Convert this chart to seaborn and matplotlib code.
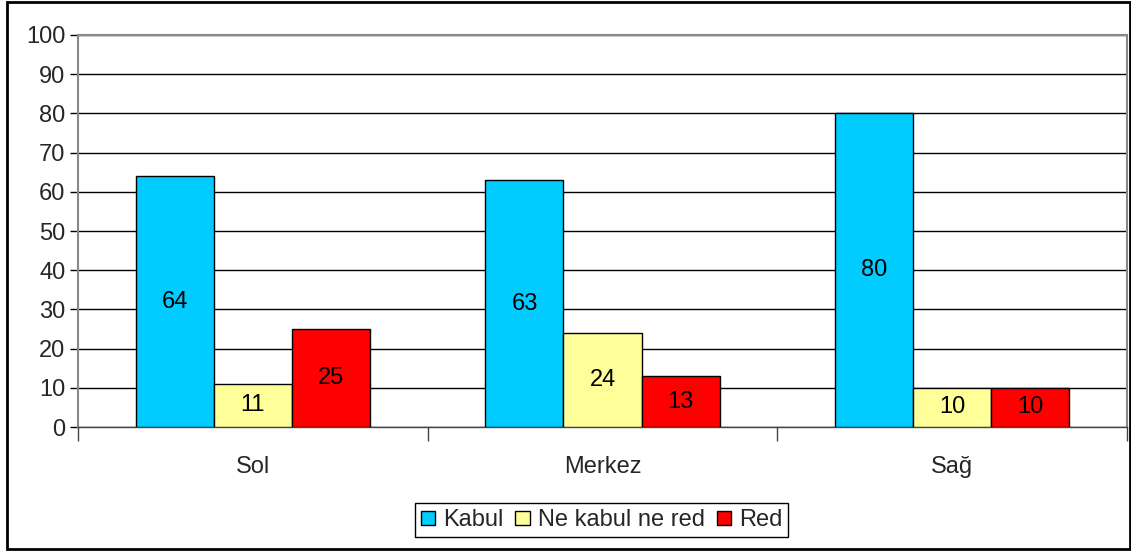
import pandas as pd
import seaborn as sns
import matplotlib.pyplot as plt
from matplotlib.patches import Rectangle

groups = ["Sol", "Merkez", "Sağ"]
responses = ["Kabul", "Ne kabul ne red", "Red"]
kabul = [64, 63, 80]
ne_kabul_ne_red = [11, 24, 10]
red = [25, 13, 10]
colors = ["#00CCFF", "#FFFF99", "#FF0000"]

rows = []
for name, vals in zip(responses, [kabul, ne_kabul_ne_red, red]):
    for g, v in zip(groups, vals):
        rows.append([g, name, v])
df = pd.DataFrame(rows, columns=["Grup", "Cevap", "Yüzde"])

sns.set_style("white")
plt.rcParams["font.family"] = ["Liberation Sans", "DejaVu Sans"]
fs = 17

fig = plt.figure(figsize=(11.31, 5.51), dpi=100)
ax = fig.add_axes([0.069, 0.225, 0.9275, 0.7115])

sns.barplot(
    data=df,
    x="Grup",
    y="Yüzde",
    hue="Cevap",
    order=groups,
    hue_order=responses,
    palette=colors,
    width=0.67,
    edgecolor="black",
    linewidth=1,
    saturation=1,
    ax=ax,
    zorder=3,
)

for cont in ax.containers:
    ax.bar_label(cont, label_type="center", fontsize=fs, color="black")

ax.set_ylim(0, 100)
ax.set_xlim(-0.5, 2.5)
ax.set_yticks(range(0, 101, 10))
ax.yaxis.grid(True, color="black", linewidth=1)
ax.set_axisbelow(True)
ax.set_xlabel("")
ax.set_ylabel("")
ax.tick_params(axis="y", labelsize=fs, length=6, width=1, color="black", left=True, pad=3)
ax.tick_params(axis="x", which="major", labelsize=fs, length=0, pad=21)
ax.set_xticks([-0.5, 0.5, 1.5, 2.5], minor=True)
ax.tick_params(axis="x", which="minor", length=10, width=1, color="#444444", bottom=True)
for side in ["top", "right", "left"]:
    ax.spines[side].set_color("#888888")
    ax.spines[side].set_linewidth(1.5)
ax.spines["bottom"].set_color("#444444")
ax.spines["bottom"].set_linewidth(1)

leg = ax.legend(
    loc="lower center",
    bbox_to_anchor=(0.532, 0.025),
    bbox_transform=fig.transFigure,
    ncol=3,
    fontsize=fs,
    frameon=True,
    fancybox=False,
    edgecolor="black",
    framealpha=1,
    handlelength=0.6,
    handleheight=0.6,
    handletextpad=0.35,
    columnspacing=0.5,
    borderpad=0.25,
    borderaxespad=0,
)
leg.get_frame().set_linewidth(1)

fig.patches.append(
    Rectangle((0.006, 0.003), 0.993, 0.994, transform=fig.transFigure,
              fill=False, edgecolor="black", linewidth=2)
)

fig.savefig("out.png", dpi=100)
